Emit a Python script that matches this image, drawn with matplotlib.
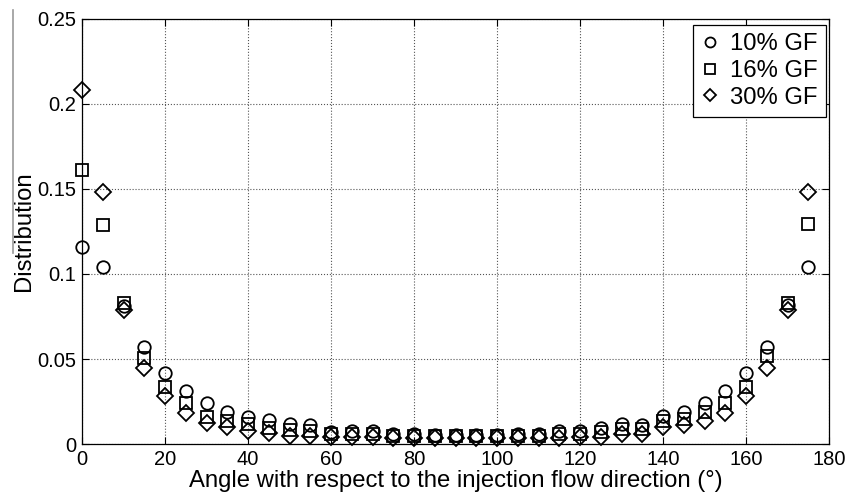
import numpy as np
import matplotlib
matplotlib.use("Agg")
import matplotlib.pyplot as plt
from matplotlib.lines import Line2D

plt.rcParams['font.family'] = ['Liberation Sans', 'DejaVu Sans']

angles = np.arange(0, 180, 5)

gf10 = [0.116, 0.104, 0.081, 0.057, 0.042, 0.031, 0.024, 0.019, 0.016, 0.014,
        0.0118, 0.011, 0.0072, 0.0075, 0.0078, 0.0058, 0.0056, 0.0055, 0.0055, 0.0055,
        0.0055, 0.0056, 0.0058, 0.0075, 0.0078, 0.0096, 0.0115, 0.011, 0.0167, 0.019,
        0.0243, 0.031, 0.0416, 0.057, 0.082, 0.104]
gf16 = [0.161, 0.129, 0.0827, 0.0506, 0.0335, 0.024, 0.016, 0.0137, 0.0118, 0.0094,
        0.008, 0.0075, 0.006, 0.006, 0.006, 0.005, 0.005, 0.005, 0.005, 0.005,
        0.005, 0.005, 0.005, 0.006, 0.006, 0.0072, 0.009, 0.009, 0.0137, 0.015,
        0.019, 0.024, 0.0333, 0.052, 0.0827, 0.1294]
gf30 = [0.208, 0.148, 0.079, 0.045, 0.028, 0.018, 0.0125, 0.010, 0.0078, 0.0065,
        0.005, 0.005, 0.004, 0.004, 0.004, 0.0035, 0.0035, 0.0035, 0.0035, 0.0035,
        0.0035, 0.0035, 0.0035, 0.0035, 0.004, 0.0043, 0.006, 0.006, 0.010, 0.011,
        0.0137, 0.018, 0.028, 0.045, 0.0788, 0.148]

labels = ['10% GF', '16% GF', '30% GF']
markers = ['o', 's', 'D']
sizes = [9, 8.5, 8]

fig = plt.figure(figsize=(8.48, 4.96), dpi=100)
ax = fig.add_axes([0.0967, 0.1048, 0.881, 0.857])

for vals, lab, mk, ms in zip([gf10, gf16, gf30], labels, markers, sizes):
    ax.plot(angles, vals, linestyle='none', marker=mk, markersize=ms,
            markerfacecolor='none', markeredgecolor='black',
            markeredgewidth=1.3, label=lab, clip_on=False)

ax.set_xlim(0, 180)
ax.set_ylim(0, 0.25)
ax.set_xticks(np.arange(0, 181, 20))
ax.set_yticks([0, 0.05, 0.1, 0.15, 0.2, 0.25])
ax.set_yticklabels(['0', '0.05', '0.1', '0.15', '0.2', '0.25'])
ax.grid(True, linestyle=':', color='#555555', linewidth=0.8)
ax.tick_params(direction='in', top=True, right=True, labelsize=14.5,
               length=5, width=0.8, pad=4)
for sp in ax.spines.values():
    sp.set_linewidth(0.9)

ax.set_xlabel('Angle with respect to the injection flow direction (°)',
              fontsize=17.2, labelpad=1)
ax.set_ylabel('Distribution', fontsize=17.2, labelpad=2)

leg = ax.legend(loc='upper right', bbox_to_anchor=(0.996, 0.986),
                fontsize=17.2, markerscale=0.8,
                handlelength=0.7, handletextpad=0.5, borderpad=0.35,
                labelspacing=0.2, fancybox=False, edgecolor='black',
                framealpha=1, borderaxespad=0)
leg.get_frame().set_linewidth(0.9)

# thin gray rule along the left edge of the page
fig.add_artist(Line2D([13 / 848, 13 / 848], [1 - 10 / 496, 1 - 253 / 496],
                      transform=fig.transFigure, color='#999999', linewidth=1.2))

fig.savefig('out.png', dpi=100)
